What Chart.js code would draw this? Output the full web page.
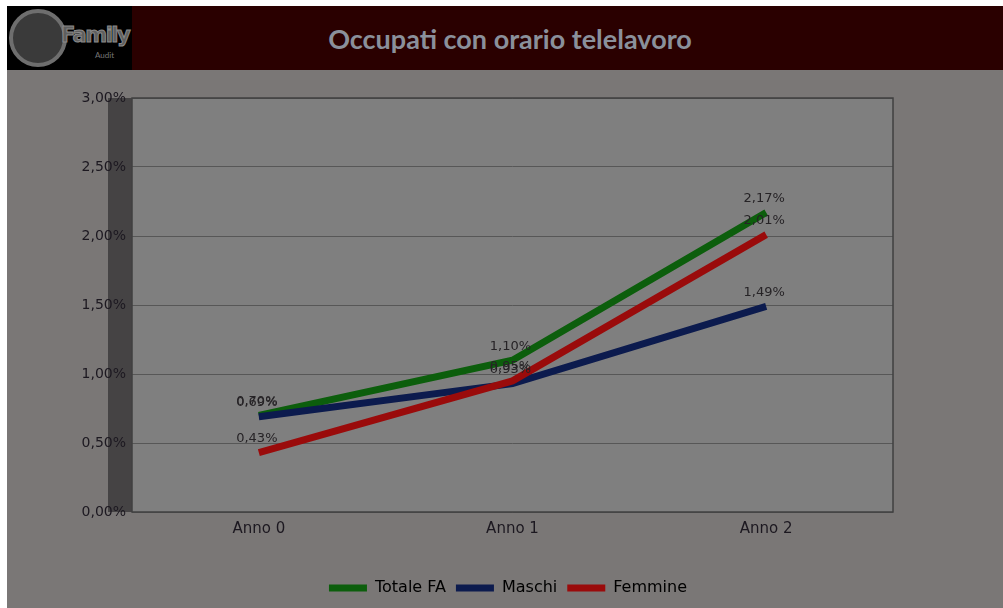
<!DOCTYPE html>
<html>
<head>
<meta charset="utf-8">
<title>Occupati con orario telelavoro</title>
<script src="https://cdn.jsdelivr.net/npm/chart.js@4.4.1/dist/chart.umd.min.js"></script>
<style>
  html, body { margin: 0; padding: 0; background: #ffffff; }
  body { width: 1003px; height: 608px; position: relative; overflow: hidden; font-family: Lato, "Open Sans", sans-serif; }
  #page { position: absolute; left: 7px; top: 6px; width: 996px; height: 602px; background: #7a7776; }
  #header { position: absolute; left: 0; top: 0; width: 996px; height: 64px; background: #2a0000; }
  #logo { position: absolute; left: 0; top: 0; width: 125px; height: 64px; background: #000; overflow: hidden; }
  #logo .ring { position: absolute; left: 2px; top: 3px; width: 50px; height: 50px; border-radius: 50%; border: 4px solid #6e6e6e; background: #3a3a3a; }
  #logo .name { position: absolute; left: 54px; top: 17px; font-family: "DejaVu Sans", sans-serif; font-weight: bold; font-size: 21px; color: #5f5f5f; letter-spacing: -1.5px; -webkit-text-stroke: 1px #8a8a8a; }
  #logo .sub { position: absolute; left: 88px; top: 44px; font-size: 8px; color: #777; }
  #title { position: absolute; left: 5px; top: 0; width: 996px; height: 64px; line-height: 66px; text-align: center; font-size: 27px; font-weight: bold; color: #8a909b; }
  #wrap { position: absolute; left: 0; top: 64px; width: 996px; height: 538px; }
</style>
</head>
<body>
<div id="page">
  <div id="header">
    <div id="title">Occupati con orario telelavoro</div>
    <div id="logo"><div class="ring"></div><div class="name">Family</div><div class="sub">Audit</div></div>
  </div>
  <div id="wrap"><canvas id="chart" width="996" height="538"></canvas></div>
</div>
<script>
// categories and values (percent)
const anni = ["Anno 0", "Anno 1", "Anno 2"];
const totaleFA = [0.70, 1.10, 2.17];
const maschi = [0.69, 0.93, 1.49];
const femmine = [0.43, 0.95, 2.01];
const yTicks = [0, 0.5, 1, 1.5, 2, 2.5, 3];

const fmt = v => v.toFixed(2).replace(".", ",") + "%";
const FONT = "'DejaVu Sans', sans-serif";

// dark side wall and plot background
const wallPlugin = {
  id: "wall",
  beforeDraw(chart) {
    const { ctx, chartArea: a } = chart;
    ctx.save();
    ctx.fillStyle = "#7f7f7f";
    ctx.fillRect(a.left, a.top, a.right - a.left, a.bottom - a.top);
    ctx.fillStyle = "#454344";
    ctx.fillRect(a.left - 24, a.top, 24, a.bottom - a.top);
    ctx.restore();
  },
  afterDraw(chart) {
    const { ctx, chartArea: a } = chart;
    ctx.save();
    ctx.strokeStyle = "#404040";
    ctx.lineWidth = 1.5;
    ctx.strokeRect(a.left, a.top, a.right - a.left, a.bottom - a.top);
    ctx.restore();
  }
};

// value labels over each point
const labelPlugin = {
  id: "valueLabels",
  afterDatasetsDraw(chart) {
    const { ctx } = chart;
    ctx.save();
    ctx.font = "13px " + FONT;
    ctx.fillStyle = "#262326";
    ctx.textAlign = "center";
    ctx.textBaseline = "middle";
    chart.data.datasets.forEach((ds, i) => {
      chart.getDatasetMeta(i).data.forEach((pt, j) => {
        ctx.fillText(fmt(ds.data[j]), pt.x - 2, pt.y - 14);
      });
    });
    ctx.restore();
  }
};

new Chart(document.getElementById("chart"), {
  type: "line",
  data: {
    labels: anni,
    datasets: [
      { label: "Totale FA", data: totaleFA, borderColor: "#0c5e0c", backgroundColor: "#0c5e0c", order: 3 },
      { label: "Maschi", data: maschi, borderColor: "#0c1b4e", backgroundColor: "#0c1b4e", order: 2 },
      { label: "Femmine", data: femmine, borderColor: "#9a0b0b", backgroundColor: "#9a0b0b", order: 1 }
    ]
  },
  options: {
    responsive: false,
    animation: false,
    devicePixelRatio: 1,
    layout: { padding: { top: 28, right: 0, left: 6, bottom: 2 } },
    elements: {
      line: { borderWidth: 7, tension: 0, borderCapStyle: "butt", fill: false },
      point: { radius: 0, hoverRadius: 0 }
    },
    plugins: {
      tooltip: { enabled: false },
      legend: {
        position: "bottom",
        labels: {
          boxWidth: 38,
          boxHeight: 7,
          padding: 10,
          color: "#1c1820",
          font: { family: FONT, size: 16 },
          generateLabels(chart) {
            return chart.data.datasets.map((ds, i) => ({
              text: ds.label,
              fillStyle: ds.borderColor,
              strokeStyle: ds.borderColor,
              lineWidth: 0,
              datasetIndex: i,
              hidden: false
            }));
          }
        }
      }
    },
    scales: {
      x: {
        offset: true,
        grid: { display: false, drawTicks: false },
        border: { display: false },
        ticks: { color: "#1c1820", padding: 8, font: { family: FONT, size: 15 } },
        afterFit(scale) { scale.height = 58; }
      },
      y: {
        min: 0,
        max: 3,
        afterBuildTicks(scale) { scale.ticks = yTicks.map(v => ({ value: v })); },
        grid: { color: "#575757", lineWidth: 1, drawTicks: false },
        border: { display: false },
        ticks: {
          color: "#1c1820",
          padding: 6,
          font: { family: FONT, size: 14 },
          callback: v => fmt(v)
        },
        afterFit(scale) { scale.width = 119; }
      },
      // empty margin on the right of the plot
      gap: {
        position: "right",
        grid: { display: false, drawTicks: false },
        border: { display: false },
        ticks: { display: false },
        afterFit(scale) { scale.width = 110; }
      }
    }
  },
  plugins: [wallPlugin, labelPlugin]
});
</script>
</body>
</html>
